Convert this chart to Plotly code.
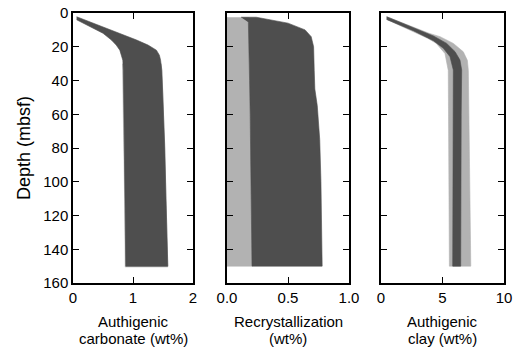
import plotly.graph_objects as go

# ---------------- data ----------------
# Panel 1: authigenic carbonate (wt%)
carb_dark_right_depth = [2.2, 8, 12, 16, 19, 22, 25, 28, 34, 50, 80, 110, 150]
carb_dark_right = [0.06, 0.48, 0.78, 1.06, 1.25, 1.39, 1.44, 1.46, 1.48, 1.50, 1.53, 1.55, 1.58]
carb_dark_left_depth = [4, 8, 12, 16, 19, 22, 25, 28, 34, 50, 80, 110, 150]
carb_dark_left = [0.06, 0.28, 0.50, 0.64, 0.72, 0.78, 0.81, 0.83, 0.84, 0.85, 0.86, 0.87, 0.88]
carb_light_left_depth = [30, 34, 50, 80, 110, 150.5]
carb_light_left = [0.825, 0.83, 0.84, 0.85, 0.86, 0.87]
carb_light_right_depth = [30, 34, 50, 80, 110, 150.5]
carb_light_right = [1.47, 1.48, 1.50, 1.53, 1.55, 1.58]

# Panel 2: recrystallization (wt%)
recr_light_depth = [2.5, 40, 60, 100, 150]
recr_light_left = [0.0, 0.0, 0.0, 0.0, 0.0]
recr_light_right = [0.175, 0.185, 0.19, 0.20, 0.205]
recr_dark_right_depth = [2.5, 2.5, 6, 10, 14, 20, 34, 45, 55, 75, 100, 150]
recr_dark_right = [0.115, 0.24, 0.50, 0.64, 0.69, 0.71, 0.715, 0.72, 0.74, 0.76, 0.77, 0.78]
recr_dark_left_depth = [5.5, 40, 60, 100, 150]
recr_dark_left = [0.175, 0.185, 0.19, 0.20, 0.205]

# Panel 3: authigenic clay (wt%)
clay_light_right_depth = [2.2, 8.5, 12, 14, 18, 23, 28, 34, 60, 100, 150]
clay_light_right = [0.46, 2.7, 3.9, 4.8, 5.88, 6.69, 7.02, 7.10, 7.15, 7.22, 7.30]
clay_light_left_depth = [3.8, 10.5, 15, 18, 24, 34, 60, 100, 150]
clay_light_left = [0.46, 2.5, 3.8, 4.5, 5.2, 5.47, 5.5, 5.53, 5.56]
clay_dark_right_depth = [2.2, 8.5, 13.6, 18, 22.9, 27.9, 33.8, 60, 100, 150]
clay_dark_right = [0.46, 2.63, 4.26, 5.34, 6.02, 6.42, 6.56, 6.52, 6.50, 6.48]
clay_dark_left_depth = [3.8, 10.5, 16.4, 20.9, 25.9, 33.8, 60, 100, 150]
clay_dark_left = [0.46, 2.63, 4.26, 5.07, 5.61, 5.88, 5.85, 5.83, 5.83]

y_ticks = [0, 20, 40, 60, 80, 100, 120, 140, 160]
x1_ticks = [0, 1, 2]
x2_ticks = [0.0, 0.5, 1.0]
x2_ticklabels = ["0.0", "0.5", "1.0"]
x3_ticks = [0, 5, 10]

titles = [("Authigenic", "carbonate (wt%)"),
          ("Recrystallization", "(wt%)"),
          ("Authigenic", "clay (wt%)")]

DARK = "#4e4e4e"
LIGHT = "#b2b2b2"


def band(right_x, right_d, left_x, left_d):
    xs = list(right_x) + list(reversed(left_x))
    ys = list(right_d) + list(reversed(left_d))
    return xs, ys


fig = go.Figure()


def add_band(rx, rd, lx, ld, color, xa, ya):
    xs, ys = band(rx, rd, lx, ld)
    fig.add_trace(go.Scatter(x=xs, y=ys, fill="toself", fillcolor=color,
                             mode="lines", line=dict(width=0.6, color=color),
                             xaxis=xa, yaxis=ya, showlegend=False,
                             hoverinfo="skip"))


add_band(carb_light_right, carb_light_right_depth, carb_light_left, carb_light_left_depth, LIGHT, "x", "y")
add_band(carb_dark_right, carb_dark_right_depth, carb_dark_left, carb_dark_left_depth, DARK, "x", "y")

add_band(recr_light_right, recr_light_depth, recr_light_left, recr_light_depth, LIGHT, "x2", "y2")
add_band(recr_dark_right, recr_dark_right_depth, recr_dark_left, recr_dark_left_depth, DARK, "x2", "y2")

add_band(clay_light_right, clay_light_right_depth, clay_light_left, clay_light_left_depth, LIGHT, "x3", "y3")
add_band(clay_dark_right, clay_dark_right_depth, clay_dark_left, clay_dark_left_depth, DARK, "x3", "y3")

W = 516 - 73 - 12
common_axis = dict(showline=True, linecolor="black", linewidth=1.5, mirror="ticks",
                   ticks="inside", ticklen=6, tickwidth=1, tickcolor="black",
                   showgrid=False, zeroline=False, automargin=False)

fig.update_layout(
    width=516, height=352,
    margin=dict(l=73, r=12, t=13, b=69, autoexpand=False),
    paper_bgcolor="white", plot_bgcolor="white",
    showlegend=False,
    font=dict(family="Liberation Sans, Arial, sans-serif", size=15, color="black"),
    xaxis=dict(domain=[0, 120 / W], range=[0, 2], tickvals=x1_ticks, anchor="y", **common_axis),
    xaxis2=dict(domain=[154 / W, 276 / W], range=[0, 1], tickvals=x2_ticks,
                ticktext=x2_ticklabels, anchor="y2", **common_axis),
    xaxis3=dict(domain=[308 / W, 1], range=[0, 10], tickvals=x3_ticks, anchor="y3", **common_axis),
    yaxis=dict(range=[160, 0], tickvals=y_ticks, anchor="x",
               title=dict(text="Depth (mbsf)", standoff=8), **common_axis),
    yaxis2=dict(range=[160, 0], tickvals=y_ticks, showticklabels=False, anchor="x2", **common_axis),
    yaxis3=dict(range=[160, 0], tickvals=y_ticks, showticklabels=False, anchor="x3", **common_axis),
)

centers = [("x", 1.0), ("x2", 0.5), ("x3", 5.0)]
for (xref, xc), (l1, l2) in zip(centers, titles):
    fig.add_annotation(x=xc, xref=xref, y=0, yref="paper", text=l1, showarrow=False,
                       yanchor="middle", yshift=-38, font=dict(size=15))
    fig.add_annotation(x=xc, xref=xref, y=0, yref="paper", text=l2, showarrow=False,
                       yanchor="middle", yshift=-55, font=dict(size=15))

fig.write_html("out.html")
